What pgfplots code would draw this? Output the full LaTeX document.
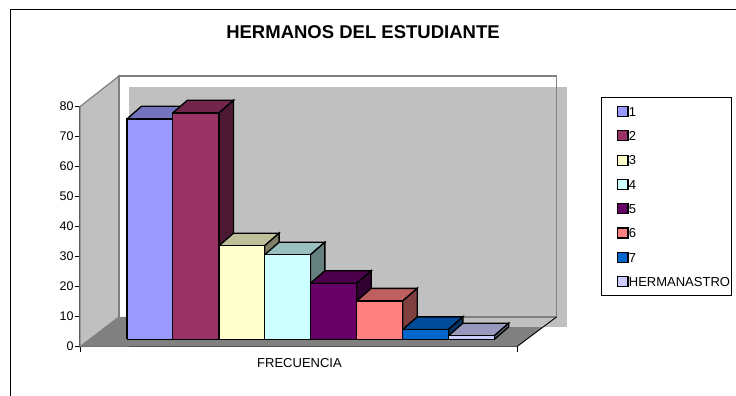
\documentclass[border=0pt]{standalone}
\usepackage{pgfplots}
\pgfplotsset{compat=1.18}
\usepackage{fontspec}
\setmainfont{Liberation Sans}
% x0 x1 value colour legend
\newcommand\dbar[5]{%
  \addplot[forget plot,fill=#4!75!black,draw=black,line width=1.35pt,line join=miter]
    coordinates {({#1},{#3+2.4}) ({#2},{#3+2.4}) ({#2+14.5},{#3+6.6}) ({#1+14.5},{#3+6.6}) ({#1},{#3+2.4})};
  \addplot[forget plot,fill=#4!50!black,draw=black,line width=1.35pt,line join=miter]
    coordinates {({#2},{2.4}) ({#2+14.5},{6.6}) ({#2+14.5},{#3+6.6}) ({#2},{#3+2.4}) ({#2},{2.4})};
  \addplot[fill=#4,draw=black,line width=1.35pt,line join=miter]
    coordinates {({#1},{2.4}) ({#2},{2.4}) ({#2},{#3+2.4}) ({#1},{#3+2.4}) ({#1},{2.4})};
  \addlegendentry{#5}
}
\definecolor{c1}{HTML}{9999FF}
\definecolor{c2}{HTML}{993366}
\definecolor{c3}{HTML}{FFFFCC}
\definecolor{c4}{HTML}{CCFFFF}
\definecolor{c5}{HTML}{660066}
\definecolor{c6}{HTML}{FF8080}
\definecolor{c7}{HTML}{0066CC}
\definecolor{c8}{HTML}{CCCCFF}
\definecolor{wall}{HTML}{C0C0C0}
\definecolor{floorc}{HTML}{808080}
\begin{document}
\begin{tikzpicture}[x=1pt,y=1pt]
\useasboundingbox (0,0) rectangle (736,396);
\begin{axis}[
  at={(80pt,49.4pt)},anchor=south west,
  scale only axis,width=437pt,height=240pt,
  xmin=80,xmax=517,ymin=0,ymax=80,
  clip=false,
  axis x line*=bottom,axis y line*=left,
  axis line style={black,line width=1.1pt,-},
  xtick={80,517},xticklabels={},
  ytick={0,10,...,80},
  tick style={black,line width=0.8pt},
  major tick length=5pt,
  tick align=outside,
  ticklabel style={font=\fontsize{12.5}{14}\selectfont},
  yticklabel style={xshift=2pt},
  /pgf/number format/assume math mode=true,
  legend style={at={(axis cs:601,83.2)},anchor=north west,draw=black,line width=0.8pt,
    font=\fontsize{13}{15}\selectfont,inner xsep=1.5pt,inner ysep=8.5pt,
    row sep=13.1pt,
    nodes={inner sep=0pt,anchor=west,text height=9.5pt,text depth=0pt}},
  legend cell align=left,
  legend image code/.code={\path[draw=none,fill=none] (0pt,0pt) -- (26pt,0pt);\draw[#1,line width=1.2pt] (14.5pt,-5pt) rectangle (25pt,5pt);},
]
% chart frame
\draw[black,line width=1pt] (axis cs:11,-16.47) -- (axis cs:11,112.53) -- (axis cs:736,112.53);
% floor, left wall, shaded plot area and wall outline
\fill[floorc] (axis cs:80,0) -- (axis cs:517,0) -- (axis cs:556.5,9.87) -- (axis cs:119,9.87) -- cycle;
\fill[wall] (axis cs:129,86.53) rectangle (axis cs:567,6.53);
\filldraw[fill=wall,draw=floorc,line width=1.2pt] (axis cs:80,0) -- (axis cs:80,80) -- (axis cs:119,90.2) -- (axis cs:119,9.87) -- cycle;
\draw[floorc,line width=1.2pt] (axis cs:119,9.87) -- (axis cs:119,90.2) -- (axis cs:556.5,90.2) -- (axis cs:556.5,9.87) -- (axis cs:129,9.87);
\fill[white] (axis cs:120,89.7) rectangle (axis cs:129,10.2);
\fill[white] (axis cs:120,89.7) rectangle (axis cs:556,86.53);
\fill[floorc] (axis cs:119.5,9.5) -- (axis cs:129,9.5) -- (axis cs:129,0) -- (axis cs:82,0) -- cycle;
\draw[black,line width=0.9pt] (axis cs:517,0) -- (axis cs:556.5,9.87);
% bars
\dbar{127}{172.8}{73.5}{c1}{1}
\dbar{172.8}{219}{75.5}{c2}{2}
\dbar{219}{264.6}{31.2}{c3}{3}
\dbar{264.6}{310.4}{28.2}{c4}{4}
\dbar{310.4}{356.7}{18.7}{c5}{5}
\dbar{356.7}{402.7}{12.8}{c6}{6}
\dbar{402.7}{448.4}{3.3}{c7}{7}
\dbar{448.4}{494.3}{1.2}{c8}{HERMANASTRO}
% text
\node[font=\bfseries\fontsize{18.5}{21}\selectfont] at (axis cs:363,104.9) {HERMANOS DEL ESTUDIANTE};
\node[font=\fontsize{13}{15}\selectfont] at (axis cs:299.5,-5.6) {FRECUENCIA};
\end{axis}
\end{tikzpicture}
\end{document}
